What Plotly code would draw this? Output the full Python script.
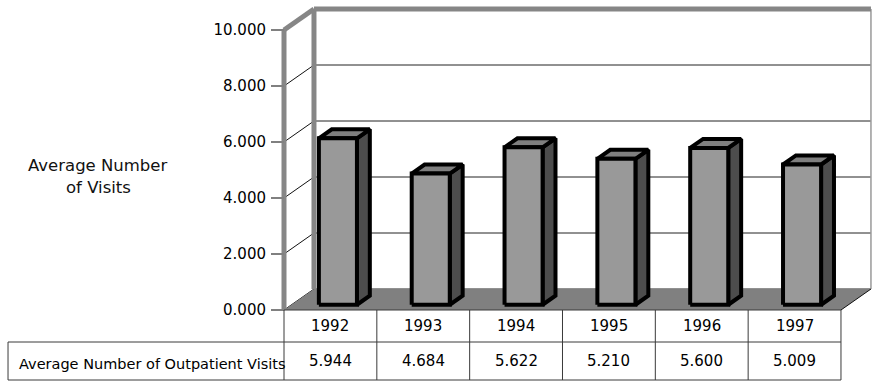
import plotly.graph_objects as go

# Outpatient visit averages by year
years = ["1992", "1993", "1994", "1995", "1996", "1997"]
visits = [5.944, 4.684, 5.622, 5.210, 5.600, 5.009]
value_ticks = [0, 2, 4, 6, 8, 10]
series_name = "Average Number of Outpatient Visits"
axis_title = ["Average Number", "of Visits"]

FONT = "DejaVu Sans"
W, H = 872, 381

# oblique projection: depth offset of the back plane in axis units
DX = 0.323   # category units
DY = 0.75    # value units
BAR_HALF = 0.205
F0, F1 = 0.25, 0.68   # bar front/back depth fractions
VMAX = 10

n = len(years)
x_lo, x_hi = -0.5, n - 0.5

# table geometry in value-axis units (below the floor)
ROW1 = -1.143
ROW2 = -2.5
LABEL_X = -3.473


def proj(x, v, d):
    return x + d * DX, v + d * DY


fig = go.Figure()


def poly(pts, fill, line_color, line_width):
    xs = [p[0] for p in pts] + [pts[0][0]]
    ys = [p[1] for p in pts] + [pts[0][1]]
    fig.add_trace(go.Scatter(
        x=xs, y=ys, mode="lines", fill="toself" if fill else None,
        fillcolor=fill, line=dict(color=line_color, width=line_width),
        hoverinfo="skip", showlegend=False))


def seg(p, q, color, width):
    fig.add_trace(go.Scatter(
        x=[p[0], q[0]], y=[p[1], q[1]], mode="lines",
        line=dict(color=color, width=width),
        hoverinfo="skip", showlegend=False))


# back wall
poly([proj(x_lo, 0, 1), proj(x_hi, 0, 1), proj(x_hi, VMAX, 1), proj(x_lo, VMAX, 1)],
     "white", "rgba(0,0,0,0)", 0)
for v in value_ticks[:-1]:
    seg(proj(x_lo, v, 1), proj(x_hi, v, 1), "#222222", 1)
seg(proj(x_hi, 0, 1), proj(x_hi, VMAX, 1), "#999999", 1.5)

# left wall
poly([proj(x_lo, 0, 0), proj(x_lo, VMAX, 0), proj(x_lo, VMAX, 1), proj(x_lo, 0, 1)],
     "white", "rgba(0,0,0,0)", 0)
for v in value_ticks[:-1]:
    seg(proj(x_lo, v, 0), proj(x_lo, v, 1), "#111111", 1)

# floor
poly([proj(x_lo, 0, 0), proj(x_hi, 0, 0), proj(x_hi, 0, 1), proj(x_lo, 0, 1)],
     "#808080", "rgba(0,0,0,0)", 0)
seg(proj(x_hi, 0, 0), proj(x_hi, 0, 1), "#111111", 1)

# wall frame
frame = "#868686"
seg(proj(x_lo, 0, 0), proj(x_lo, VMAX, 0), frame, 5)
seg(proj(x_lo, VMAX, 0), proj(x_lo, VMAX, 1), frame, 5)
seg(proj(x_lo, 0, 1), proj(x_lo, VMAX, 1), frame, 5)
seg(proj(x_lo, VMAX, 1), proj(x_hi, VMAX, 1), frame, 5)

# bars
for i, v in enumerate(visits):
    xl, xr = i - BAR_HALF, i + BAR_HALF
    front = [proj(xl, 0, F0), proj(xr, 0, F0), proj(xr, v, F0), proj(xl, v, F0)]
    side = [proj(xr, 0, F0), proj(xr, 0, F1), proj(xr, v, F1), proj(xr, v, F0)]
    top = [proj(xl, v, F0), proj(xr, v, F0), proj(xr, v, F1), proj(xl, v, F1)]
    poly(side, "#4d4d4d", "black", 4)
    poly(top, "#7f7f7f", "black", 4)
    poly(front, "#999999", "black", 4)

# data table
grid = "#3a3a3a"
fig.add_shape(type="line", xref="x", yref="y", x0=x_lo, x1=x_hi, y0=0, y1=0,
              line=dict(color=grid, width=1))
fig.add_shape(type="line", xref="x", yref="y", x0=LABEL_X, x1=x_hi, y0=ROW1, y1=ROW1,
              line=dict(color=grid, width=1))
fig.add_shape(type="line", xref="x", yref="y", x0=LABEL_X, x1=x_hi, y0=ROW2, y1=ROW2,
              line=dict(color=grid, width=1))
fig.add_shape(type="line", xref="x", yref="y", x0=LABEL_X, x1=LABEL_X, y0=ROW1, y1=ROW2,
              line=dict(color=grid, width=1))
for k in range(n + 1):
    fig.add_shape(type="line", xref="x", yref="y", x0=x_lo + k, x1=x_lo + k,
                  y0=0, y1=ROW2, line=dict(color=grid, width=1))

for i, (yr, v) in enumerate(zip(years, visits)):
    fig.add_annotation(x=i, y=ROW1 / 2, xref="x", yref="y", text=yr, showarrow=False,
                       font=dict(family=FONT, size=15, color="black"))
    fig.add_annotation(x=i, y=(ROW1 + ROW2) / 2, xref="x", yref="y", text=f"{v:.3f}",
                       showarrow=False, font=dict(family=FONT, size=15, color="black"))
fig.add_annotation(x=LABEL_X + 0.1, y=(ROW1 + ROW2) / 2 - 0.12, xref="x", yref="y",
                   text=series_name, showarrow=False, xanchor="left",
                   font=dict(family=FONT, size=14.5, color="black"))

# value axis title
for line, ypx in zip(axis_title, (165, 187)):
    fig.add_annotation(x=98 / W, y=1 - ypx / H, xref="paper", yref="paper", text=line,
                       showarrow=False, xanchor="center", yanchor="middle",
                       font=dict(family=FONT, size=16.5, color="#111111"))

# axis ranges: 92.83 px per category, 28 px per value unit
px_cat, px_val = 92.83, 28.0
x0_px, y0_px = 284, 310
fig.update_xaxes(range=[x_lo - x0_px / px_cat, x_lo + (W - x0_px) / px_cat],
                 visible=False, domain=[0, 1])
fig.update_yaxes(range=[-(H - y0_px) / px_val, y0_px / px_val],
                 showgrid=False, zeroline=False, showline=False,
                 tickvals=value_ticks, tickformat=".3f", ticks="outside",
                 ticklen=13, tickwidth=1.5, tickcolor="#808080",
                 anchor="free", position=x0_px / W, ticklabelstandoff=2,
                 tickfont=dict(family=FONT, size=15, color="black"))

fig.update_layout(width=W, height=H, margin=dict(l=0, r=0, t=0, b=0),
                  plot_bgcolor="white", paper_bgcolor="white", showlegend=False)

fig.write_html("out.html")
